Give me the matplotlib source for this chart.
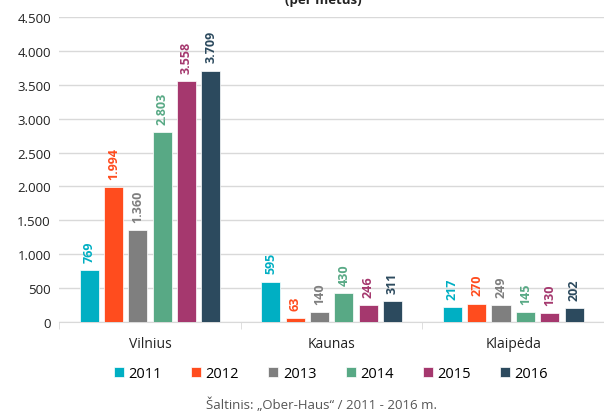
import numpy as np
import matplotlib.pyplot as plt

plt.rcParams['font.family'] = ['Open Sans', 'DejaVu Sans']

# Duomenys
cities = ['Vilnius', 'Kaunas', 'Klaipėda']
years = ['2011', '2012', '2013', '2014', '2015', '2016']
values = {
    '2011': [769, 595, 217],
    '2012': [1994, 63, 270],
    '2013': [1360, 140, 249],
    '2014': [2803, 430, 145],
    '2015': [3558, 246, 130],
    '2016': [3709, 311, 202],
}
colors = ['#00afc3', '#ff4c1e', '#7f7f7f', '#58a985', '#a5386e', '#2c4a5e']
yticks = [0, 500, 1000, 1500, 2000, 2500, 3000, 3500, 4000, 4500]

fig = plt.figure(figsize=(6.04, 4.14), dpi=100)
ax = fig.add_axes([0.098, 0.22, 0.902, 0.7365])

x = np.arange(len(cities))
step = 0.134
width = 0.105
for i, year in enumerate(years):
    pos = x + (i - 2.5) * step
    ax.bar(pos, values[year], width=width, color=colors[i], label=year,
           edgecolor='white', linewidth=0.5, zorder=3)
    for p, v in zip(pos, values[year]):
        txt = f'{v:,}'.replace(',', '.')
        ax.text(p, v + 120, txt, rotation=90, ha='center', va='bottom',
                fontsize=9, fontweight='bold', color=colors[i])

ax.set_xlim(-0.5, 2.5)
ax.set_ylim(0, 4500)
ax.set_yticks(yticks)
ax.set_yticklabels([f'{t:,}'.replace(',', '.') for t in yticks], fontsize=9.5, color='#222222')
ax.yaxis.grid(True, color='#d9d9d9', linewidth=1, zorder=0)
ax.set_xticks(x)
ax.set_xticklabels(cities, fontsize=10, color='#222222')
ax.tick_params(axis='x', length=0, pad=10)
ax.tick_params(axis='y', length=0, pad=6)
# skirtukai tarp kategoriju
ax.set_xticks([-0.5, 0.5, 1.5, 2.5], minor=True)
ax.tick_params(axis='x', which='minor', length=5, color='#d9d9d9')
for s in ['top', 'right', 'left']:
    ax.spines[s].set_visible(False)
ax.spines['bottom'].set_color('#d9d9d9')

leg = fig.legend(loc='center', bbox_to_anchor=(0.548, 0.095), ncol=6, frameon=False,
                 fontsize=10.5, handlelength=0.7, handleheight=0.7, handletextpad=0.3,
                 columnspacing=2.0)

fig.text(0.535, 0.998, '(per metus)', ha='center', va='center', fontsize=9.5,
         fontweight='bold', color='#222222')
fig.text(0.533, 0.022, 'Šaltinis: „Ober-Haus“ / 2011 - 2016 m.', ha='center', va='center',
         fontsize=9.5, color='#555555')

fig.savefig('out.png', dpi=100)
